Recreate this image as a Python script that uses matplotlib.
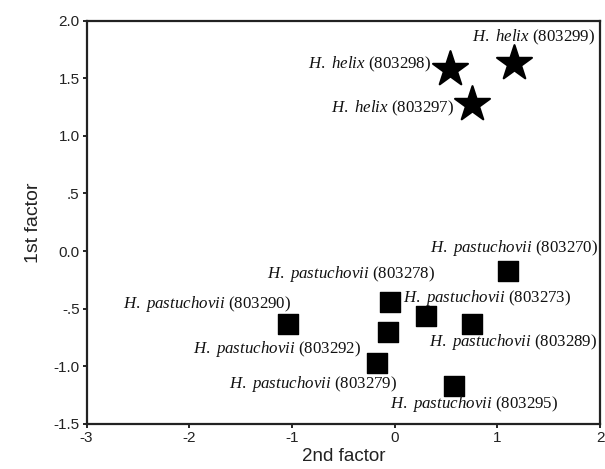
import matplotlib.pyplot as plt

plt.rcParams['font.family'] = 'Liberation Sans'
plt.rcParams['mathtext.fontset'] = 'custom'
plt.rcParams['mathtext.it'] = 'Liberation Serif:italic'
plt.rcParams['mathtext.rm'] = 'Liberation Serif'

# H. helix specimens (stars)
helix_ids = ['803299', '803298', '803297']
helix_x = [1.16, 0.54, 0.75]
helix_y = [1.63, 1.58, 1.28]

# H. pastuchovii specimens (squares)
past_ids = ['803270', '803278', '803273', '803290', '803292', '803289', '803279', '803295']
past_x = [1.10, -0.05, 0.30, -1.04, -0.07, 0.75, -0.17, 0.58]
past_y = [-0.17, -0.44, -0.56, -0.63, -0.70, -0.63, -0.97, -1.17]

xticks = [-3, -2, -1, 0, 1, 2]
yticks = [2.0, 1.5, 1.0, 0.5, 0.0, -0.5, -1.0, -1.5]
ytick_labels = ['2.0', '1.5', '1.0', '.5', '0.0', '-.5', '-1.0', '-1.5']

# label offsets from the marker, in pixels
helix_off = [(20, 26), (-81, 5), (-79, -5)]
past_off = [(6, 23), (-38, 28), (62, 18), (-81, 20), (-110, -17), (41, -18), (-64, -21), (20, -18)]

fig = plt.figure(figsize=(6.05, 4.69), dpi=100)
ax = fig.add_axes([0.143, 0.096, 0.849, 0.860])

ax.scatter(helix_x, helix_y, marker='*', s=700, color='black', edgecolor='black', linewidth=1.5, zorder=3)
ax.scatter(past_x, past_y, marker='s', s=210, color='black', zorder=3)

for sid, x, y, off in zip(helix_ids, helix_x, helix_y, helix_off):
    ax.annotate(r'$\mathit{H.\ helix}$ (' + sid + ')', (x, y), xytext=off,
                textcoords='offset pixels', ha='center', va='center', fontsize=12.2,
                family='Liberation Serif', color='#111111')
for sid, x, y, off in zip(past_ids, past_x, past_y, past_off):
    ax.annotate(r'$\mathit{H.\ pastuchovii}$ (' + sid + ')', (x, y), xytext=off,
                textcoords='offset pixels', ha='center', va='center', fontsize=12.2,
                family='Liberation Serif', color='#111111')

ax.set_xlim(-3, 2)
ax.set_ylim(-1.5, 2.0)
ax.set_xticks(xticks)
ax.set_xticklabels([str(t) for t in xticks])
ax.set_yticks(yticks)
ax.set_yticklabels(ytick_labels)
ax.tick_params(direction='out', length=3, width=1.2, labelsize=11, top=False, right=False, pad=2,
               labelcolor='#222222')
for sp in ax.spines.values():
    sp.set_linewidth(1.6)
    sp.set_color('#222222')

ax.set_xlabel('2nd factor', fontsize=13.5, labelpad=2, color='#222222')
ax.set_ylabel('1st factor', fontsize=14, labelpad=8, color='#222222')

fig.savefig('out.png', dpi=100)
